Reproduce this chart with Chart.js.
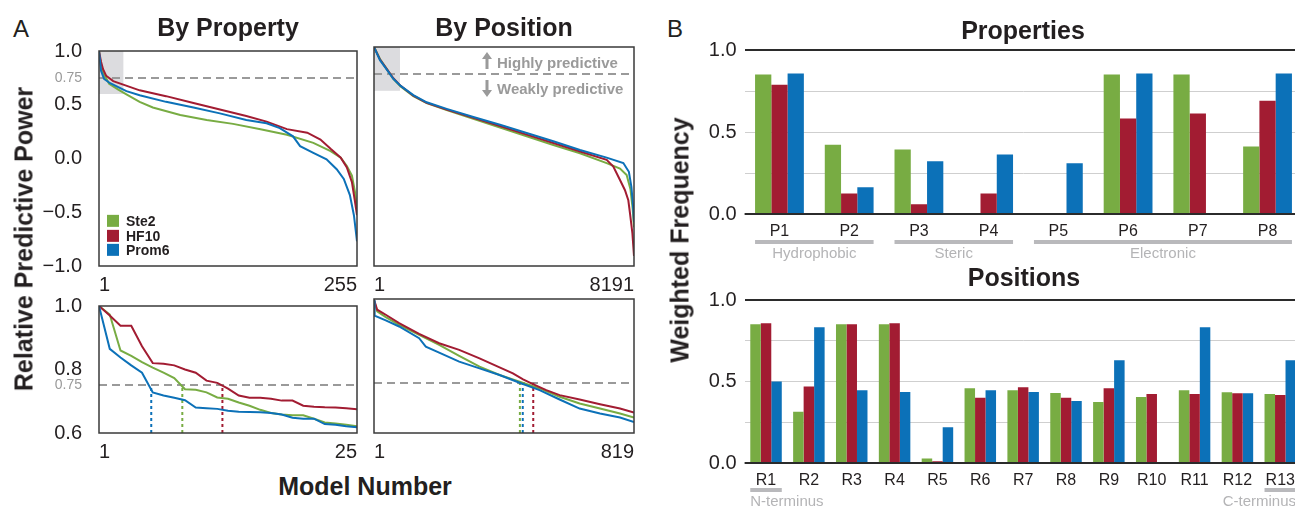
<!DOCTYPE html>
<html><head><meta charset="utf-8">
<script src="https://cdn.jsdelivr.net/npm/chart.js@4.4.1/dist/chart.umd.min.js"></script>
<style>
html,body{margin:0;padding:0;background:#fff;width:1295px;height:507px;overflow:hidden;position:relative;font-family:'Liberation Sans',Arial,Helvetica,sans-serif;color:#231f20}
canvas{position:absolute}
.t{position:absolute;white-space:nowrap;line-height:1;transform:translate(-50%,-50%)}
.b{font-weight:bold}
.rot{transform:translate(-50%,-50%) rotate(-90deg)}
.leg{position:absolute;font-weight:bold;font-size:14px;line-height:1;white-space:nowrap;transform:translateY(-50%)}
.leg i{display:inline-block;width:12px;height:12px;vertical-align:middle;margin-right:7px;position:relative;top:-1px}
.ann{position:absolute;font-weight:bold;font-size:15px;line-height:1;color:#9a9a9a;white-space:nowrap;transform:translateY(-50%)}
</style></head><body>
<canvas id="cTL"></canvas><canvas id="cTR"></canvas><canvas id="cBL"></canvas><canvas id="cBR"></canvas>
<canvas id="cProp"></canvas><canvas id="cPos"></canvas>

<div class="t" style="left:21px;top:29px;font-size:24px">A</div>
<div class="t" style="left:675px;top:29px;font-size:24px">B</div>
<div class="t b" style="left:228px;top:27px;font-size:25px">By Property</div>
<div class="t b" style="left:504px;top:27px;font-size:25px">By Position</div>
<div class="t b" style="left:1023px;top:30px;font-size:25px">Properties</div>
<div class="t b" style="left:1024px;top:277px;font-size:25px">Positions</div>
<div class="t b rot" style="left:24px;top:239px;font-size:25px">Relative Predictive Power</div>
<div class="t b" style="left:365px;top:486px;font-size:25px">Model Number</div>
<div class="t b rot" style="left:680px;top:240px;font-size:25px">Weighted Frequency</div>

<div id="legend"></div>

<svg style="position:absolute;left:481px;top:52px" width="12" height="17"><polygon points="6,0 11,7 7.5,7 7.5,17 4.5,17 4.5,7 1,7" fill="#9a9a9a"/></svg>
<div class="ann" style="left:497px;top:62px">Highly predictive</div>
<svg style="position:absolute;left:481px;top:80px" width="12" height="17"><polygon points="6,17 11,10 7.5,10 7.5,0 4.5,0 4.5,10 1,10" fill="#9a9a9a"/></svg>
<div class="ann" style="left:497px;top:88px">Weakly predictive</div>

<script>
// ---------------- DATA ----------------
const seriesNames  = ['Ste2', 'HF10', 'Prom6'];
const seriesColors = ['#78ac43', '#a21c32', '#0c71b8'];

const threshold = 0.75;

// Panel A, By Property, all 255 models: [model number, relative predictive power]
const propAllSte2  = [[1,1.0],[3,0.86],[5,0.80],[11,0.695],[20,0.64],[28,0.597],[41,0.527],[54,0.475],[81,0.405],[107,0.359],[133,0.322],[160,0.273],[186,0.221],[212,0.145],[229,0.069],[239,0.008],[245,-0.069],[250,-0.16],[253,-0.31],[255,-0.466]];
const propAllHF10  = [[1,1.0],[3,0.90],[5,0.83],[8,0.77],[15,0.72],[27,0.68],[41,0.634],[67,0.58],[94,0.517],[120,0.456],[146,0.395],[166,0.343],[186,0.273],[206,0.24],[219,0.176],[229,0.09],[239,0.008],[245,-0.084],[250,-0.22],[253,-0.40],[255,-0.527]];
const propAllProm6 = [[1,1.0],[3,0.817],[6,0.74],[12,0.70],[28,0.627],[41,0.588],[67,0.527],[94,0.475],[120,0.42],[146,0.359],[166,0.328],[179,0.282],[192,0.206],[199,0.115],[212,0.053],[225,-0.008],[235,-0.10],[242,-0.19],[248,-0.34],[252,-0.53],[255,-0.77]];

// Panel A, By Position, all 8191 models
const posAllSte2  = [[1,1.0],[190,0.89],[400,0.80],[610,0.71],[840,0.64],[1240,0.552],[1660,0.488],[2290,0.425],[3130,0.345],[3970,0.265],[4810,0.185],[5650,0.105],[6490,0.03],[7330,-0.06],[7750,-0.11],[7960,-0.17],[8080,-0.30],[8150,-0.48],[8191,-0.646]];
const posAllHF10  = [[1,1.0],[190,0.885],[400,0.80],[610,0.715],[840,0.645],[1240,0.555],[1660,0.49],[2290,0.428],[3130,0.354],[3970,0.277],[4810,0.2],[5650,0.123],[6490,0.046],[7330,-0.03],[7540,-0.092],[7750,-0.215],[7907,-0.308],[8012,-0.40],[8065,-0.52],[8140,-0.70],[8191,-0.908]];
const posAllProm6 = [[1,1.0],[190,0.88],[400,0.795],[610,0.71],[840,0.645],[1240,0.56],[1660,0.495],[2290,0.435],[3130,0.36],[3970,0.29],[4810,0.215],[5650,0.14],[6490,0.06],[7330,-0.01],[7855,-0.06],[8030,-0.14],[8110,-0.28],[8160,-0.45],[8191,-0.60]];

// Panel A, By Property, top 25 models
const top25Models = [1,2,3,4,5,6,7,8,9,10,11,12,13,14,15,16,17,18,19,20,21,22,23,24,25];
const propTopSte2  = [1.0,0.973,0.86,0.843,0.823,0.806,0.79,0.773,0.738,0.736,0.728,0.712,0.708,0.696,0.686,0.673,0.663,0.658,0.656,0.656,0.645,0.633,0.63,0.626,0.621];
const propTopHF10  = [1.0,0.97,0.938,0.938,0.873,0.82,0.818,0.813,0.80,0.79,0.765,0.758,0.74,0.718,0.711,0.711,0.708,0.702,0.702,0.686,0.683,0.681,0.68,0.678,0.675];
const propTopProm6 = [1.0,0.865,0.838,0.813,0.79,0.728,0.718,0.711,0.703,0.68,0.678,0.676,0.67,0.667,0.666,0.665,0.663,0.658,0.648,0.645,0.645,0.628,0.626,0.621,0.618];
const propTopCross = [8.75, 12.48, 5.86];   // model number where each series drops below 0.75

// Panel A, By Position, top 819 models
const posTopSte2  = [[1,0.996],[11,0.963],[38,0.946],[80,0.923],[143,0.893],[206,0.863],[269,0.83],[333,0.798],[396,0.773],[459,0.753],[522,0.733],[585,0.708],[648,0.688],[712,0.673],[775,0.658],[819,0.646]];
const posTopHF10  = [[1,0.998],[11,0.968],[38,0.953],[80,0.928],[143,0.896],[206,0.868],[269,0.848],[333,0.823],[396,0.796],[438,0.778],[470,0.76],[501,0.746],[543,0.728],[585,0.713],[648,0.70],[712,0.686],[775,0.673],[819,0.661]];
const posTopProm6 = [[1,0.996],[3,0.95],[38,0.936],[80,0.918],[143,0.883],[164,0.858],[206,0.84],[269,0.813],[333,0.793],[396,0.773],[459,0.75],[522,0.728],[585,0.70],[648,0.673],[712,0.658],[775,0.646],[819,0.633]];
const posTopCross = [460, 502, 469];

// axis ticks
const propAllXTicks = [1, 255];
const posAllXTicks  = [1, 8191];
const propTopXTicks = [1, 25];
const posTopXTicks  = [1, 819];
const allYTicks = [-1.0, -0.5, 0.0, 0.5, 0.75, 1.0];
const topYTicks = [0.6, 0.75, 0.8, 1.0];

// Panel B
const propLabels = ['P1','P2','P3','P4','P5','P6','P7','P8'];
const propSte2  = [0.851,0.423,0.393,0,0,0.851,0.851,0.411];
const propHF10  = [0.788,0.125,0.06,0.125,0,0.583,0.613,0.69];
const propProm6 = [0.857,0.163,0.321,0.363,0.31,0.857,0,0.857];
const propGroups = [['Hydrophobic',0,1,'center'],['Steric',2,3,'center'],['Electronic',4,7,'center']];

const posLabels = ['R1','R2','R3','R4','R5','R6','R7','R8','R9','R10','R11','R12','R13'];
const posSte2  = [0.851,0.315,0.851,0.851,0.028,0.459,0.447,0.429,0.375,0.405,0.446,0.434,0.423];
const posHF10  = [0.857,0.47,0.851,0.857,0.01,0.40,0.465,0.40,0.459,0.423,0.423,0.428,0.417];
const posProm6 = [0.50,0.833,0.446,0.435,0.22,0.447,0.435,0.381,0.631,0.005,0.833,0.428,0.631];
const posGroups = [['N-terminus',0,0,'left'],['C-terminus',12,12,'right']];
const freqYTicks = [0, 0.25, 0.5, 0.75, 1.0];

// ---------------- RENDER ----------------
const FONT = "'Liberation Sans', Arial, Helvetica, sans-serif";
const INK = '#231f20';
Chart.defaults.font.family = FONT;
Chart.defaults.color = INK;

// legend
const legendEl = document.getElementById('legend');
seriesNames.forEach((n, i) => {
  const d = document.createElement('div');
  d.className = 'leg';
  d.style.left = '107px';
  d.style.top = (221 + i * 14.5) + 'px';
  d.innerHTML = '<i style="background:' + seriesColors[i] + '"></i>' + n;
  legendEl.appendChild(d);
});

function fmt(v) {
  if (Math.abs(v - 0.75) < 1e-9) return '0.75';
  return v.toFixed(1).replace('-', '\u2212');
}

function setupCanvas(id, box) {
  const cv = document.getElementById(id);
  cv.width = box.w; cv.height = box.h;
  cv.style.left = box.l + 'px'; cv.style.top = box.t + 'px';
  return cv;
}

function linePanel(id, box, area, o) {
  const cv = setupCanvas(id, box);
  const yW = o.showY ? 60 : 0;
  const xH = 30;
  const padding = {
    left: area.l - box.l - yW,
    top: area.t - box.t,
    right: box.l + box.w - area.r,
    bottom: box.t + box.h - area.b - xH
  };
  const datasets = [];
  const order = [2, 1, 0];
  o.series.forEach((pts, i) => {
    datasets.push({
      label: seriesNames[i], data: pts, borderColor: seriesColors[i],
      borderWidth: 2, pointRadius: 0, fill: false, tension: 0, order: order[i]
    });
  });
  if (o.cross) {
    o.cross.forEach((c, i) => {
      datasets.push({
        label: seriesNames[i] + ' cut', data: [{x: c, y: o.yMin}, {x: c, y: threshold}],
        borderColor: seriesColors[i], borderWidth: 2, borderDash: [3, 3],
        pointRadius: 0, fill: false, order: 5
      });
    });
  }
  const decor = {
    id: 'decor',
    beforeDatasetsDraw(chart) {
      const {ctx, chartArea: a, scales: {x, y}} = chart;
      ctx.save();
      if (o.shade) {
        const x0 = x.getPixelForValue(o.shade[0]), x1 = x.getPixelForValue(o.shade[1]);
        const y0 = y.getPixelForValue(o.shade[3]), y1 = y.getPixelForValue(o.shade[2]);
        ctx.fillStyle = '#dcdcdf';
        ctx.fillRect(x0, y0, x1 - x0, y1 - y0);
      }
      const yy = Math.round(y.getPixelForValue(threshold));
      ctx.strokeStyle = '#9a9a9a'; ctx.lineWidth = 2; ctx.setLineDash([8, 5]);
      ctx.beginPath(); ctx.moveTo(a.left, yy); ctx.lineTo(a.right, yy); ctx.stroke();
      ctx.restore();
    },
    afterDraw(chart) {
      const {ctx, chartArea: a} = chart;
      ctx.save();
      ctx.strokeStyle = '#3a3a3a'; ctx.lineWidth = 1.5;
      ctx.strokeRect(a.left, a.top, a.right - a.left, a.bottom - a.top);
      ctx.restore();
    }
  };
  return new Chart(cv, {
    type: 'line',
    data: {datasets},
    options: {
      responsive: false, animation: false, devicePixelRatio: 1,
      layout: {padding},
      plugins: {legend: {display: false}, tooltip: {enabled: false}},
      scales: {
        x: {
          type: 'linear', min: o.xTicks[0], max: o.xTicks[1],
          grid: {display: false}, border: {display: false},
          afterBuildTicks: s => { s.ticks = o.xTicks.map(v => ({value: v})); },
          afterFit: s => { s.height = xH; },
          ticks: {align: 'inner', padding: -1, autoSkip: false, maxRotation: 0,
                  font: {size: 20}, color: INK, callback: v => String(v)}
        },
        y: {
          display: o.showY, min: o.yMin, max: 1.0,
          grid: {display: false}, border: {display: false},
          afterBuildTicks: s => { s.ticks = o.yTicks.map(v => ({value: v})); },
          afterFit: s => { s.width = yW; },
          ticks: {
            padding: 9, autoSkip: false, callback: v => fmt(v),
            font: c => (c.tick && Math.abs(c.tick.value - 0.75) < 1e-9) ? {size: 14} : {size: 20},
            color: c => (c.tick && Math.abs(c.tick.value - 0.75) < 1e-9) ? '#9a9a9a' : INK
          }
        }
      }
    },
    plugins: [decor]
  });
}

const toXY = arr => arr.map(p => ({x: p[0], y: p[1]}));
const zip25 = ys => top25Models.map((m, i) => ({x: m, y: ys[i]}));

linePanel('cTL', {l: 30, t: 30, w: 340, h: 270}, {l: 99, t: 47, r: 357, b: 266}, {
  showY: true, yMin: -1, yTicks: allYTicks, xTicks: propAllXTicks,
  series: [toXY(propAllSte2), toXY(propAllHF10), toXY(propAllProm6)],
  shade: [propTopXTicks[0], propTopXTicks[1], topYTicks[0], 1.0]
});
linePanel('cTR', {l: 365, t: 30, w: 285, h: 270}, {l: 374, t: 47, r: 634, b: 266}, {
  showY: false, yMin: -1, yTicks: allYTicks, xTicks: posAllXTicks,
  series: [toXY(posAllSte2), toXY(posAllHF10), toXY(posAllProm6)],
  shade: [posTopXTicks[0], posTopXTicks[1], topYTicks[0], 1.0]
});
linePanel('cBL', {l: 30, t: 285, w: 340, h: 185}, {l: 99, t: 299, r: 357, b: 433}, {
  showY: true, yMin: 0.6, yTicks: topYTicks, xTicks: propTopXTicks,
  series: [zip25(propTopSte2), zip25(propTopHF10), zip25(propTopProm6)],
  cross: propTopCross
});
linePanel('cBR', {l: 365, t: 285, w: 285, h: 185}, {l: 374, t: 299, r: 634, b: 433}, {
  showY: false, yMin: 0.6, yTicks: topYTicks, xTicks: posTopXTicks,
  series: [toXY(posTopSte2), toXY(posTopHF10), toXY(posTopProm6)],
  cross: posTopCross
});

function barPanel(id, box, area, labels, values, groups, catPct, bracketDy, labelDy) {
  const cv = setupCanvas(id, box);
  const yW = 45, xH = 30;
  const padding = {
    left: area.l - box.l - yW,
    top: area.t - box.t,
    right: box.l + box.w - area.r,
    bottom: box.t + box.h - area.b - xH
  };
  const groupPlugin = {
    id: 'groups',
    afterDatasetsDraw(chart) {
      const {ctx, chartArea: a, scales: {x, y}} = chart;
      ctx.save();
      const y0 = Math.round(y.getPixelForValue(0));
      ctx.strokeStyle = '#2b2b2b'; ctx.lineWidth = 2;
      ctx.beginPath(); ctx.moveTo(a.left, y0); ctx.lineTo(a.right, y0); ctx.stroke();
      const half = (a.right - a.left) / labels.length * catPct / 2;
      ctx.font = '15px ' + FONT;
      ctx.textBaseline = 'middle';
      groups.forEach(([name, from, to, align]) => {
        const xs = x.getPixelForValue(from) - half, xe = x.getPixelForValue(to) + half;
        ctx.fillStyle = '#b9b9bc';
        ctx.fillRect(xs, a.bottom + bracketDy, xe - xs, 4);
        ctx.fillStyle = '#b4b4b6';
        ctx.textAlign = align;
        const tx = align === 'left' ? xs : (align === 'right' ? xe : (xs + xe) / 2);
        ctx.fillText(name, tx, a.bottom + labelDy);
      });
      ctx.restore();
    }
  };
  return new Chart(cv, {
    type: 'bar',
    data: {
      labels,
      datasets: values.map((v, i) => ({label: seriesNames[i], data: v, backgroundColor: seriesColors[i], borderWidth: 0}))
    },
    options: {
      responsive: false, animation: false, devicePixelRatio: 1,
      layout: {padding},
      datasets: {bar: {categoryPercentage: catPct, barPercentage: 1}},
      plugins: {legend: {display: false}, tooltip: {enabled: false}},
      scales: {
        x: {
          grid: {display: false}, border: {display: false},
          afterFit: s => { s.height = xH; },
          ticks: {padding: 0, autoSkip: false, maxRotation: 0, font: {size: 16}, color: INK}
        },
        y: {
          min: 0, max: 1,
          afterBuildTicks: s => { s.ticks = freqYTicks.map(v => ({value: v})); },
          afterFit: s => { s.width = yW; },
          border: {display: false},
          grid: {
            drawTicks: false,
            color: c => (c.tick && (c.tick.value === 0 || c.tick.value === 1)) ? '#2b2b2b' : '#cfcfcf',
            lineWidth: c => (c.tick && (c.tick.value === 0 || c.tick.value === 1)) ? 2 : 1
          },
          ticks: {padding: 8, autoSkip: false, font: {size: 20}, color: INK,
                  callback: v => (v === 0.25 || v === 0.75) ? '' : v.toFixed(1)}
        }
      }
    },
    plugins: [groupPlugin]
  });
}

barPanel('cProp', {l: 690, t: 30, w: 620, h: 240}, {l: 744.6, t: 46, r: 1302.4, b: 214},
  propLabels, [propSte2, propHF10, propProm6], propGroups, 0.70, 26, 40);
barPanel('cPos', {l: 690, t: 280, w: 620, h: 227}, {l: 744.6, t: 295, r: 1301.7, b: 463},
  posLabels, [posSte2, posHF10, posProm6], posGroups, 0.735, 25, 39);
</script>
</body></html>
